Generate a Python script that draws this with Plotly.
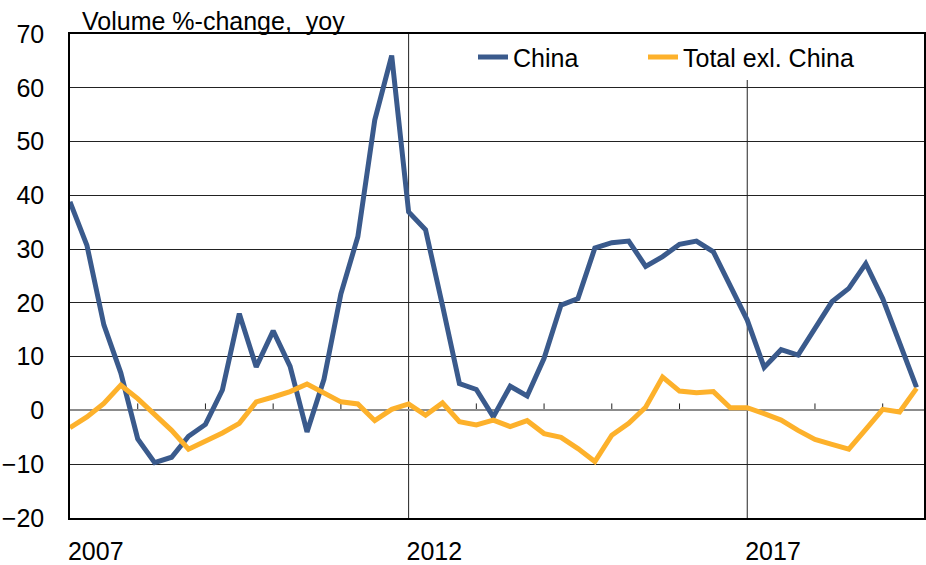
import plotly.graph_objects as go

# Quarterly data, 2007Q1 .. 2019Q3
start_year = 2007
china = [38.8, 30.7, 15.9, 7.0, -5.3, -9.7, -8.7, -4.8, -2.6, 3.8,
         18.0, 8.1, 14.8, 8.2, -4.0, 5.8, 21.7, 32.3, 54.0, 66.0,
         36.9, 33.6, 19.5, 5.0, 3.9, -1.2, 4.5, 2.7, 9.7, 19.6,
         20.8, 30.2, 31.2, 31.5, 26.8, 28.6, 30.9, 31.5, 29.5, 23.3,
         16.8, 8.0, 11.3, 10.3, 15.4, 20.2, 22.7, 27.3, 20.8, 12.5,
         4.3]
total_ex_china = [-3.2, -1.2, 1.3, 4.7, 2.2, -0.7, -3.7, -7.2, -5.8, -4.2,
                  -2.4, 1.6, 2.5, 3.5, 4.9, 3.3, 1.6, 1.2, -1.9, 0.2,
                  1.2, -0.9, 1.4, -2.1, -2.7, -1.8, -3.0, -1.9, -4.3, -5.0,
                  -7.1, -9.5, -4.6, -2.4, 0.6, 6.2, 3.6, 3.3, 3.5, 0.5,
                  0.5, -0.6, -1.8, -3.7, -5.4, -6.3, -7.2, -3.5, 0.2, -0.3,
                  4.1]
year_labels = ["2007", "2012", "2017"]
label_years = [2007, 2012, 2017]
minor_years = [2008, 2009, 2010, 2011, 2013, 2014, 2015, 2016, 2018, 2019]
y_ticks = [-20, -10, 0, 10, 20, 30, 40, 50, 60, 70]

x = [start_year + i / 4 for i in range(len(china))]

FONT = "Liberation Sans, Arial, sans-serif"
FS = 25
L, R, T, B = 70, 2, 34, 47
PW = 926 - L - R


def px_x(p):
    return (p - L) / PW


fig = go.Figure()
fig.add_trace(go.Scatter(x=x, y=china, mode="lines", name="China", legend="legend",
                         line=dict(color="#3A5A8C", width=5)))
fig.add_trace(go.Scatter(x=x, y=total_ex_china, mode="lines", name="Total exl. China",
                         legend="legend2", line=dict(color="#FDB12B", width=5)))

shapes = []
for yr in [2012, 2017]:
    shapes.append(dict(type="line", xref="x", yref="y", x0=yr, x1=yr, y0=-20, y1=70,
                       line=dict(color="#222222", width=1), layer="below"))
for yr in minor_years:
    shapes.append(dict(type="line", xref="x", yref="y", x0=yr, x1=yr, y0=0, y1=1.3,
                       line=dict(color="#222222", width=1), layer="below"))
fig.update_layout(shapes=shapes)

fig.add_annotation(text="Volume %-change,  yoy", xref="paper", yref="paper",
                   x=px_x(80), y=1, xanchor="left", yanchor="bottom",
                   yshift=-3, showarrow=False, font=dict(size=FS, color="black", family=FONT))

leg_common = dict(orientation="h", y=0.952, xanchor="left", yanchor="middle",
                  bgcolor="white", font=dict(size=FS), itemwidth=30)

fig.update_layout(
    width=926, height=565,
    margin=dict(l=L, r=R, t=T, b=B, autoexpand=False),
    paper_bgcolor="white", plot_bgcolor="white",
    font=dict(family=FONT, size=FS, color="black"),
    showlegend=True,
    legend=dict(x=px_x(473), **leg_common),
    legend2=dict(x=px_x(643), **leg_common),
    xaxis=dict(range=[2007, 2019.61], tickmode="array",
               tickvals=[v + 0.38 for v in label_years], ticktext=year_labels,
               ticks="", showgrid=False, zeroline=False, automargin=False,
               showline=True, linecolor="black", linewidth=1.5, mirror=True,
               ticklabelstandoff=10, tickfont=dict(size=FS)),
    yaxis=dict(range=[-20, 70], tickmode="array", tickvals=y_ticks,
               showgrid=True, gridcolor="#222222", gridwidth=1,
               zeroline=True, zerolinecolor="#8C8C8C", zerolinewidth=2,
               showline=True, linecolor="black", linewidth=1.5, mirror=True, automargin=False,
               ticks="", ticklabelstandoff=19, tickfont=dict(size=FS)),
)

fig.write_html("out.html", config={"displayModeBar": False},
               post_script="document.body.style.margin='0';document.body.style.padding='0';")
